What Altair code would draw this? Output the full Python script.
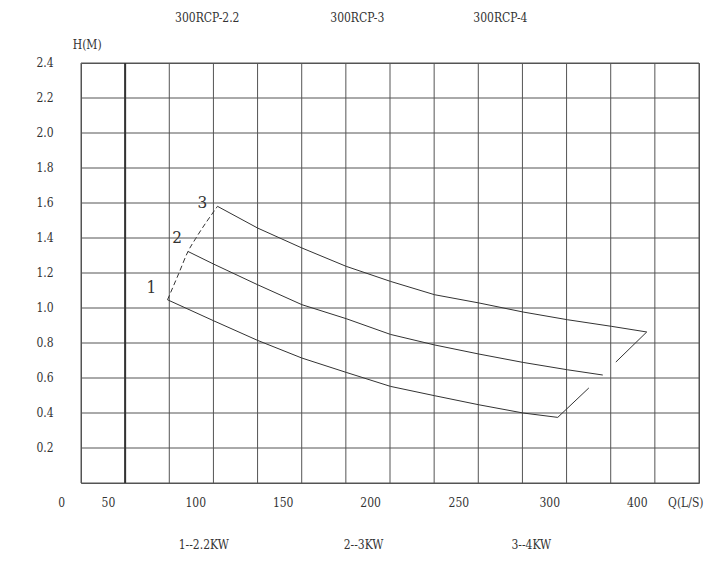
import altair as alt
import pandas as pd

# ---- data ----
q1 = [84.0, 110.1, 135.0, 160.1, 185.2, 210.3, 235.2, 260.3, 285.4, 305.0]
h1 = [1.047, 0.927, 0.815, 0.714, 0.632, 0.552, 0.499, 0.447, 0.400, 0.375]
q1_tail = [305.0, 322.6]
h1_tail = [0.375, 0.543]

q2 = [95.6, 110.1, 135.0, 160.1, 185.2, 210.3, 235.2, 260.3, 285.4, 310.5, 330.5]
h2 = [1.323, 1.251, 1.133, 1.019, 0.939, 0.849, 0.789, 0.737, 0.689, 0.647, 0.617]

q3 = [112.3, 135.0, 160.1, 185.2, 210.3, 235.2, 260.3, 285.4, 310.5, 335.6, 355.4]
h3 = [1.581, 1.457, 1.343, 1.238, 1.152, 1.076, 1.029, 0.977, 0.933, 0.895, 0.863]
q3_tail = [355.4, 337.9]
h3_tail = [0.863, 0.691]

q_dash = [84.0, 90.4, 95.6, 100.0, 112.3]
h_dash = [1.047, 1.198, 1.323, 1.398, 1.581]

curve_labels = ["1", "2", "3"]
curve_label_q = [74.8, 89.5, 103.8]
curve_label_h = [1.114, 1.40, 1.60]

x_grid = [35, 60, 85, 110, 135, 160, 185, 210, 235, 260, 285, 310, 335, 360, 385]
y_grid = [0.0, 0.2, 0.4, 0.6, 0.8, 1.0, 1.2, 1.4, 1.6, 1.8, 2.0, 2.2, 2.4]
thick_line_q = [60]

y_tick_text = ["0.2", "0.4", "0.6", "0.8", "1.0", "1.2", "1.4", "1.6", "1.8",
               "2.0", "2.2", "2.4"]
y_tick_h = [0.2, 0.4, 0.6, 0.8, 1.0, 1.2, 1.4, 1.6, 1.8, 2.0, 2.2, 2.4]
y_tick_q = 19.5

x_tick_text = ["0", "50", "100", "150", "200", "250", "300", "400", "Q(L/S)"]
x_tick_q = [24.0, 50.5, 100.0, 149.5, 199.0, 249.0, 300.5, 350.0, 377.5]
x_tick_h = -0.113

top_titles = ["300RCP-2.2", "300RCP-3", "300RCP-4"]
top_titles_q = [106.5, 191.5, 272.5]
top_titles_h = 2.659

bottom_notes = ["1--2.2KW", "2--3KW", "3--4KW"]
bottom_notes_q = [104.5, 195.0, 290.0]
bottom_notes_h = -0.355

y_title = "H(M)"
y_title_q = 38.5
y_title_h = 2.505

FONT = "DejaVu Serif Condensed"
INK = "#333333"
GRID = "#555555"

# ---- tables ----
rows = []
for name, qs, hs in [("c1", q1, h1), ("c1t", q1_tail, h1_tail), ("c2", q2, h2),
                     ("c3", q3, h3), ("c3t", q3_tail, h3_tail)]:
    for i, (q, h) in enumerate(zip(qs, hs)):
        rows.append({"Q": q, "H": h, "seg": name, "i": i})
lines_df = pd.DataFrame(rows)
dash_df = pd.DataFrame({"Q": q_dash, "H": h_dash, "i": list(range(len(q_dash)))})
num_df = pd.DataFrame({"Q": curve_label_q, "H": curve_label_h, "t": curve_labels})
xt_df = pd.DataFrame({"Q": x_tick_q, "H": [x_tick_h] * len(x_tick_q), "t": x_tick_text})
yt_df = pd.DataFrame({"Q": [y_tick_q] * len(y_tick_h), "H": y_tick_h, "t": y_tick_text})
top_df = pd.DataFrame({"Q": top_titles_q, "H": [top_titles_h] * 3, "t": top_titles})
bot_df = pd.DataFrame({"Q": bottom_notes_q, "H": [bottom_notes_h] * 3, "t": bottom_notes})
ytitle_df = pd.DataFrame({"Q": [y_title_q], "H": [y_title_h], "t": [y_title]})
thick_df = pd.DataFrame({"Q": thick_line_q})
vgrid_df = pd.DataFrame({"Q": x_grid})
hgrid_df = pd.DataFrame({"H": y_grid})

xs = alt.Scale(domain=[35, 385], nice=False, zero=False)
ys = alt.Scale(domain=[0, 2.4], nice=False, zero=False)
Xn = alt.X("Q:Q", scale=xs, axis=None)
Yn = alt.Y("H:Q", scale=ys, axis=None)

vgrid = alt.Chart(vgrid_df).mark_rule(color=GRID, strokeWidth=1).encode(x=Xn)
hgrid = alt.Chart(hgrid_df).mark_rule(color=GRID, strokeWidth=1).encode(y=Yn)
thick = alt.Chart(thick_df).mark_rule(color="#333333", strokeWidth=2).encode(x=Xn)

curves = alt.Chart(lines_df).mark_line(color=INK, strokeWidth=1).encode(
    x=Xn, y=Yn, detail="seg:N", order="i:Q")

dash = alt.Chart(dash_df).mark_line(color=INK, strokeWidth=1, strokeDash=[5, 3],
                                    interpolate="monotone").encode(
    x=Xn, y=Yn, order="i:Q")


def text_layer(df, size, align="center"):
    return alt.Chart(df).mark_text(font=FONT, fontSize=size, color=INK,
                                   align=align, baseline="middle").encode(
        x=Xn, y=Yn, text="t:N")


chart = alt.layer(
    vgrid, hgrid, thick, curves, dash,
    text_layer(num_df, 17),
    text_layer(xt_df, 12),
    text_layer(yt_df, 12, "right"),
    text_layer(top_df, 12),
    text_layer(bot_df, 12),
    text_layer(ytitle_df, 12),
).properties(
    width=618, height=420,
    autosize=alt.AutoSizeParams(type="none"),
    padding={"left": 73, "top": 55, "right": 20, "bottom": 68},
    background="white",
).configure_view(stroke=GRID, strokeWidth=1)

chart.save("out.html", embed_options={"renderer": "svg", "actions": False})
